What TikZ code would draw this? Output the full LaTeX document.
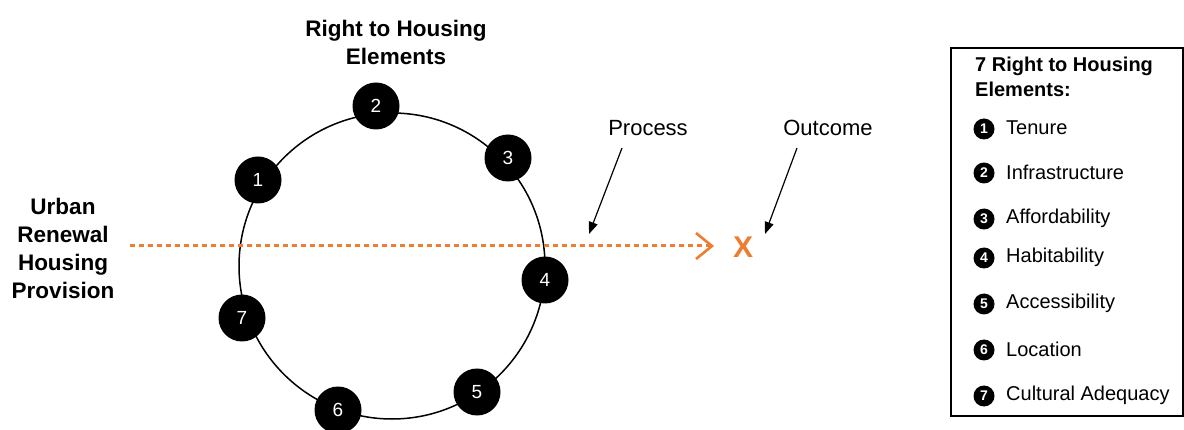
\documentclass[tikz,border=0pt]{standalone}
\usepackage{fontspec}
\setmainfont{Liberation Sans}
\usetikzlibrary{arrows.meta}
\definecolor{flow}{HTML}{ED7D31}
\begin{document}
\begin{tikzpicture}[x=1pt,y=-1pt,
  elem/.style={circle,fill=black,text=white,minimum size=47pt,inner sep=0pt,
    font=\fontsize{19}{19}\selectfont},
  bullet/.style={circle,fill=black,text=white,minimum size=21pt,inner sep=0pt,
    font=\bfseries\fontsize{14}{14}\selectfont},
  item/.style={anchor=west,inner sep=0pt,font=\fontsize{20}{20}\selectfont},
  heading/.style={align=center,font=\bfseries\fontsize{22.5}{28}\selectfont},
  callout/.style={font=\fontsize{22}{22}\selectfont},
  pointer/.style={-{Triangle[length=12pt,width=9pt]},line width=1.2pt}]
\useasboundingbox (0,0) rectangle (1184,430);

% ring of elements
\draw[line width=1.5pt] (392,266) circle[radius=153pt];

% flow line through the ring
\coordinate (lstart) at (130,246);
\coordinate (lend) at (712,246);
\draw[flow,line width=3pt,dash pattern=on 5pt off 4pt] (lstart) -- (lend);
\draw[flow,line width=2.6pt] (696,233) -- (lend) -- (696,259);
\node[text=flow,font=\bfseries\fontsize{30}{30}\selectfont] (x) at (743,247) {X};

\node[elem] (n1) at (258,180) {1};
\node[elem] (n2) at (376,106) {2};
\node[elem] (n3) at (508,158) {3};
\node[elem] (n4) at (545,280) {4};
\node[elem] (n5) at (477,392) {5};
\node[elem] (n6) at (338,410) {6};
\node[elem] (n7) at (242,318) {7};

% headings
\node[heading] (title) at (396,42) {Right to Housing\\Elements};
\node[heading] (source) at (63,248) {Urban\\Renewal\\Housing\\Provision};

% callouts
\node[callout] (process) at (648,128) {Process};
\node[callout] (outcome) at (828,128) {Outcome};
\coordinate (pstart) at (622,148);
\coordinate (ptip) at (589,234);
\coordinate (ostart) at (797,148);
\coordinate (otip) at (765,234);
\draw[pointer] (pstart) -- (ptip);
\draw[pointer] (ostart) -- (otip);

% legend
\draw[line width=1.5pt] (951,48) rectangle (1183,416);
\node[anchor=west,align=left,inner sep=0pt,font=\bfseries\fontsize{20}{25}\selectfont]
  (ltitle) at (975,77) {7 Right to Housing\\Elements:};
\foreach \k/\y/\t in {1/128/Tenure,2/172/Infrastructure,3/218/Affordability,
    4/257/Habitability,5/303/Accessibility,6/349/Location,7/395/Cultural Adequacy}{
  \node[bullet] (b\k) at (984,\y+1) {\k};
  \node[item] (l\k) at (1006,\y) {\t};
}
\end{tikzpicture}
\end{document}
